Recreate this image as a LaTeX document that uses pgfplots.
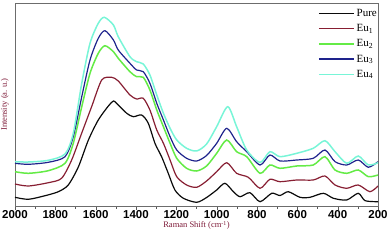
\documentclass[border=0pt]{standalone}
\usepackage{fontspec}
\setmainfont{Liberation Serif}
\newfontfamily\arialfont{Liberation Sans}
\usepackage{pgfplots}
\pgfplotsset{compat=1.18}
\definecolor{cPure}{RGB}{10,10,10}
\definecolor{cEuA}{RGB}{135,30,50}
\definecolor{cEuB}{RGB}{100,235,70}
\definecolor{cEuC}{RGB}{30,35,140}
\definecolor{cEuD}{RGB}{120,245,215}
\definecolor{labred}{RGB}{125,25,55}
\begin{document}
\begin{tikzpicture}
\begin{axis}[
  name=ax,
  scale only axis, width=363pt, height=203pt,
  x dir=reverse, xmin=200, xmax=2000, ymin=0, ymax=203,
  xtick={200,400,...,2000}, minor xtick={300,500,...,1900},
  ytick=\empty,
  axis line style={draw=gray!85!black},
  tick style={color=gray!70!black},
  tick align=outside, xtick pos=bottom,
  major tick length=4pt, minor tick length=3pt,
  /pgf/number format/assume math mode=true,
  /pgf/number format/1000 sep={},
  xticklabel style={font=\arialfont\bfseries\fontsize{11.5}{12}\selectfont, inner sep=1pt, yshift=1pt},
  xlabel={Raman Shift (cm\textsuperscript{-1})},
  ylabel={Intensity (a. u.)},
  xlabel style={font=\fontsize{8.5}{10}\selectfont, text=labred, at={(axis description cs:0.5,0)}, anchor=north, yshift=-15pt, inner sep=0pt},
  ylabel style={font=\fontsize{8.5}{10}\selectfont, text=labred, at={(axis description cs:-0.017,0.5)}, anchor=south, rotate=0, inner sep=0pt},
  legend style={draw=none, fill=none, at={(rel axis cs:1,1)}, anchor=north east, font=\fontsize{11}{12}\selectfont, row sep=2.5pt, inner sep=1pt, xshift=2pt, yshift=-3pt},
  legend cell align=left,
  legend image code/.code={\draw[#1, line width=1.4pt] (0pt,0pt) -- (35pt,0pt);},
  every axis plot/.append style={line width=1.2pt, smooth, tension=0.45},
]
\addplot[cPure] coordinates {
(2000,8.7)(1934,6.7)(1851,10.3)(1785,14.3)(1736,21)(1686,39)(1636,66)(1587,86)(1537,100)(1512,105)(1496,102.7)(1446,92.7)(1413,89.3)(1372,91)(1339,82.7)(1306,62.7)(1273,49.3)(1240,32.7)(1207,16)(1165,7.7)(1099,3.7)(1050,8.5)(1000,16)(959,22.7)(917,14.3)(884,9.3)(835,13.3)(785,4.3)(727,12.7)(686,10.5)(645,14.3)(587,8.7)(537,8.7)(471,12.7)(421,7.7)(355,6)(298,12.7)(264,5.3)(200,4.3)};
\addlegendentry{Pure}
\addplot[cEuA] coordinates {
(2000,22)(1934,20)(1835,23.3)(1769,27.7)(1719,46)(1669,73)(1620,99.3)(1570,126)(1521,128.7)(1488,125)(1430,111)(1397,107)(1364,107.7)(1331,96)(1297,76)(1264,62.7)(1231,46)(1198,29.3)(1149,21)(1099,18.7)(1050,25)(1000,34.3)(950,43.3)(901,32.7)(843,28.7)(785,17.7)(736,26.7)(686,24.3)(603,26)(521,26)(463,30)(413,21)(355,17.7)(298,21)(240,14.3)(200,20)};
\addlegendentry{Eu\textsubscript{1}}
\addplot[cEuB, line width=1.5pt] coordinates {
(2000,34.3)(1934,32.7)(1835,35.3)(1752,42.7)(1711,62.7)(1669,99.3)(1628,132.7)(1587,152.7)(1554,160.3)(1512,154.3)(1488,147.7)(1430,134.3)(1397,129.3)(1364,128.7)(1331,116)(1297,96)(1264,79.3)(1231,62.7)(1198,47.7)(1149,37.7)(1099,35)(1050,40)(1000,52.7)(950,66)(901,54.3)(851,49.3)(785,32.7)(736,41)(686,37.7)(603,40)(521,41)(463,49.3)(413,36)(355,32.7)(298,36)(248,29.3)(200,31)};
\addlegendentry{Eu\textsubscript{2}}
\addplot[cEuC] coordinates {
(2000,42.7)(1934,41.7)(1835,43.7)(1752,49.3)(1711,69.3)(1669,109.3)(1628,146)(1587,167.7)(1554,175.3)(1512,166)(1488,156)(1430,142.7)(1397,136)(1364,134.3)(1331,122.7)(1297,102.7)(1264,86)(1231,69.3)(1198,56)(1149,47.7)(1099,45)(1050,50.5)(1000,62.7)(950,77.7)(901,64.3)(851,54.3)(785,41)(736,51)(686,45)(603,46)(521,47.7)(463,56)(413,44.3)(355,41)(298,46)(248,38.7)(200,44.3)};
\addlegendentry{Eu\textsubscript{3}}
\addplot[cEuD, line width=1.5pt] coordinates {
(2000,44.3)(1934,44)(1835,45.7)(1752,52)(1711,72.7)(1669,122.7)(1628,162.7)(1587,182.7)(1557,188.7)(1512,181)(1488,169.3)(1430,149.3)(1397,144.3)(1364,142)(1331,131)(1297,111)(1264,92.7)(1231,77.7)(1198,66)(1149,57.7)(1099,55)(1050,62)(1000,79.3)(945,99.3)(901,79.3)(851,56)(785,43.5)(736,54.3)(686,49.3)(603,52.7)(521,57.7)(463,65.3)(413,54.3)(355,42.7)(298,50)(248,41)(200,43.3)};
\addlegendentry{Eu\textsubscript{4}}
\end{axis}
\path (ax.south west) ++(-15pt,-34pt) coordinate (bbA);
\path (ax.north east) ++(14pt,3pt) coordinate (bbB);
\pgfresetboundingbox
\path[use as bounding box] (bbA) rectangle (bbB);
\end{tikzpicture}
\end{document}
